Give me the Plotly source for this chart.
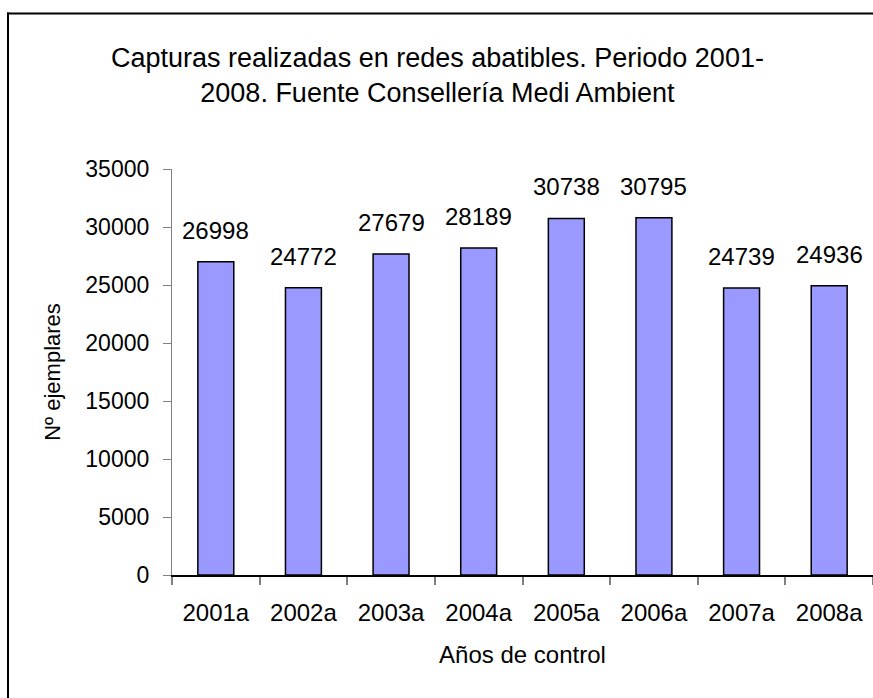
import plotly.graph_objects as go

categories = ["2001a", "2002a", "2003a", "2004a", "2005a", "2006a", "2007a", "2008a"]
values = [26998, 24772, 27679, 28189, 30738, 30795, 24739, 24936]
y_ticks = [0, 5000, 10000, 15000, 20000, 25000, 30000, 35000]
title_text = "Capturas realizadas en redes abatibles. Periodo 2001-<br>2008. Fuente Consellería Medi Ambient"

W, H = 873, 698
ML, MR, MT, MB = 172, 0, 169, 123
pw, ph = W - ML - MR, H - MT - MB

FONT = "Liberation Sans, Arial, sans-serif"

fig = go.Figure()
fig.add_trace(go.Bar(
    x=categories, y=values,
    marker=dict(color="#9999FF", line=dict(color="#000000", width=1.5)),
    width=0.41,
    hoverinfo="x+y",
))

for c, v in zip(categories, values):
    fig.add_annotation(x=c, y=v, text=str(v), showarrow=False,
                       yanchor="bottom", yshift=16,
                       font=dict(family=FONT, size=24, color="#000000"))

def px_x(p):
    return (p - ML) / pw

def px_y(p):
    return (H - MB - p) / ph

# outer frame (only its left and top sides fall inside the picture)
frame = dict(color="#000000", width=2)
fig.add_shape(type="line", xref="paper", yref="paper",
              x0=px_x(8), x1=px_x(8), y0=px_y(12.5), y1=px_y(H + 5), line=frame)
fig.add_shape(type="line", xref="paper", yref="paper",
              x0=px_x(7), x1=px_x(W + 5), y0=px_y(13.5), y1=px_y(13.5), line=frame)

# title
fig.add_annotation(xref="paper", yref="paper", x=px_x(437), y=px_y(41),
                   xanchor="center", yanchor="top", showarrow=False,
                   text=title_text, align="center",
                   font=dict(family=FONT, size=27, color="#000000"))

fig.update_layout(
    width=W, height=H,
    margin=dict(l=ML, r=MR, t=MT, b=MB, pad=0),
    paper_bgcolor="white", plot_bgcolor="white",
    showlegend=False,
    font=dict(family=FONT, color="#000000"),
)
fig.layout.xaxis.update(
    type="category", range=[-0.5, 7.5],
    showline=True, linecolor="#000000", linewidth=1.5,
    ticks="outside", tickson="boundaries", ticklen=8, tickcolor="#808080", tickwidth=1.5,
    ticklabelstandoff=15,
    tickfont=dict(family=FONT, size=24, color="#000000"),
    showgrid=False, zeroline=False,
    title=dict(text="Años de control", font=dict(family=FONT, size=24, color="#000000"), standoff=22),
)
fig.layout.yaxis.update(
    range=[0, 35000], tickvals=y_ticks, ticktext=[str(t) for t in y_ticks],
    showline=True, linecolor="#808080", linewidth=1.2,
    ticks="outside", ticklen=8, tickcolor="#808080", tickwidth=1.2,
    ticklabelstandoff=9,
    tickfont=dict(family=FONT, size=23, color="#000000"),
    showgrid=False, zeroline=False,
    title=dict(text="Nº ejemplares", font=dict(family=FONT, size=22, color="#000000"), standoff=18),
)

fig.write_html("out.html", config={"displayModeBar": False},
               post_script="document.body.style.margin='0px';")
